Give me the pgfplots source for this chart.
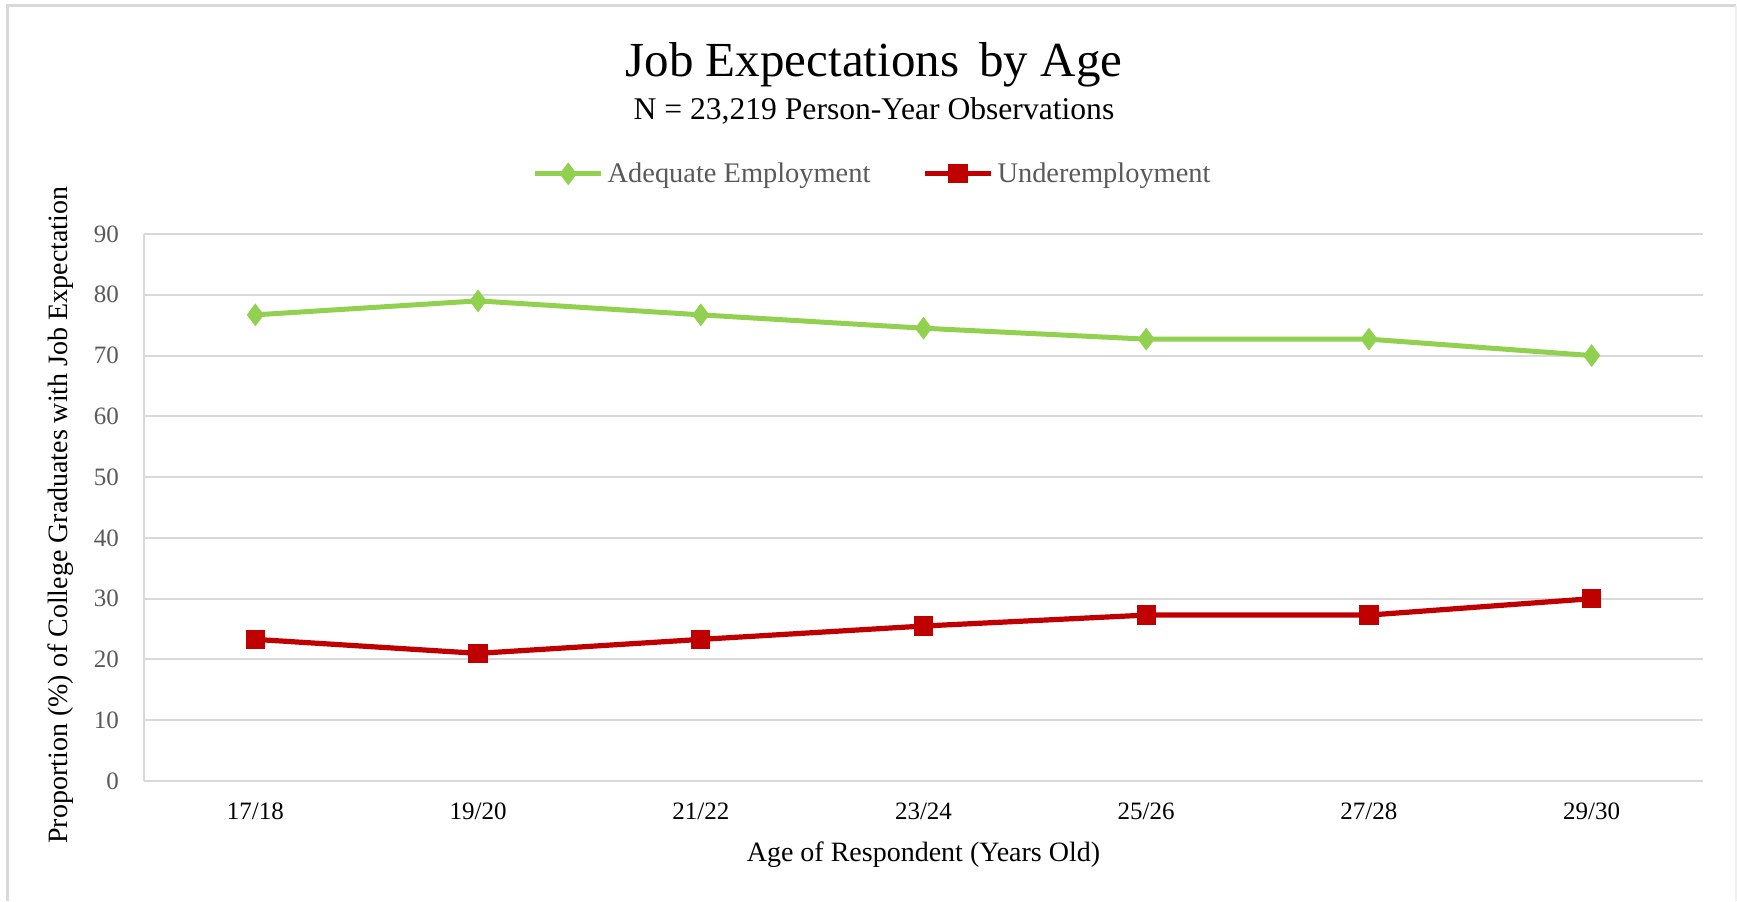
\documentclass[border=0pt]{standalone}
\usepackage{fontspec}
\setmainfont{Liberation Serif}
\usepackage{pgfplots}
\pgfplotsset{compat=1.18}
\definecolor{adeq}{HTML}{92D050}
\definecolor{under}{HTML}{C00000}
\definecolor{gridc}{HTML}{D9D9D9}
\definecolor{tickc}{HTML}{595959}
\begin{document}
\begin{tikzpicture}
\useasboundingbox (0,0) rectangle (868.5pt,450.5pt);
\fill[white] (0,0) rectangle (868.5pt,450.5pt);
% outer frame
\draw[gridc, line width=1.5pt] (3.5pt,0pt) -- (3.5pt,447.5pt) -- (868pt,447.5pt);
\draw[gridc!40, line width=0.8pt] (868pt,447.5pt) -- (868pt,0pt);
% titles
\node[font=\fontsize{24.5}{28}\selectfont, anchor=center] at (437pt,418.3pt) {Job Expectations\, by Age};
\node[font=\fontsize{15.8}{18}\selectfont, anchor=center] at (437pt,395pt) {N = 23,219 Person-Year Observations};
\begin{axis}[
  at={(72pt,60pt)}, anchor=south west,
  scale only axis, width=779.5pt, height=273.5pt,
  xmin=-0.5, xmax=6.5, ymin=0, ymax=90,
  xtick=data,
  xticklabels={17/18,19/20,21/22,23/24,25/26,27/28,29/30},
  ytick={0,10,...,90},
  /pgf/number format/assume math mode=true,
  axis lines*=left,
  axis line style={draw=gridc, line width=1pt, -},
  major tick length=0pt,
  ymajorgrids,
  major grid style={draw=gridc, line width=1pt},
  tick label style={font=\fontsize{12.5}{14}\selectfont},
  xticklabel style={yshift=-7.5pt, text=black},
  yticklabel style={xshift=-9pt, text=tickc},
  xlabel={Age of Respondent (Years Old)},
  ylabel={Proportion (\%) of College Graduates with Job Expectation},
  label style={font=\fontsize{14}{16}\selectfont},
  xlabel style={at={(axis description cs:0.5,-0.134)}, anchor=center},
  ylabel style={at={(axis description cs:-0.0532,0.486)}, anchor=center},
  legend columns=2,
  legend style={at={(axis description cs:0.468,1.11)}, anchor=center, draw=none, fill=none,
    font=\fontsize{14.2}{16}\selectfont, text=tickc,
    /tikz/every even column/.append style={column sep=24pt}},
  legend cell align=left,
  legend image code/.code={%
    \draw[#1, mark=none] (0pt,0pt) -- (33pt,0pt);
    \draw[#1, only marks] plot coordinates {(16.5pt,0pt)};},
]
\addplot[color=adeq, line width=2.5pt, mark=diamond*, mark size=5.3pt, mark options={line width=0.5pt, fill=adeq, draw=adeq}]
  coordinates {(0,76.7) (1,79.0) (2,76.7) (3,74.5) (4,72.7) (5,72.7) (6,70.0)};
\addlegendentry{Adequate Employment}
\addplot[color=under, line width=2.6pt, mark=square*, mark size=4.5pt, mark options={line width=0.6pt, fill=under, draw=under}]
  coordinates {(0,23.3) (1,21.0) (2,23.3) (3,25.5) (4,27.3) (5,27.3) (6,30.0)};
\addlegendentry{Underemployment}
\end{axis}
\end{tikzpicture}
\end{document}
